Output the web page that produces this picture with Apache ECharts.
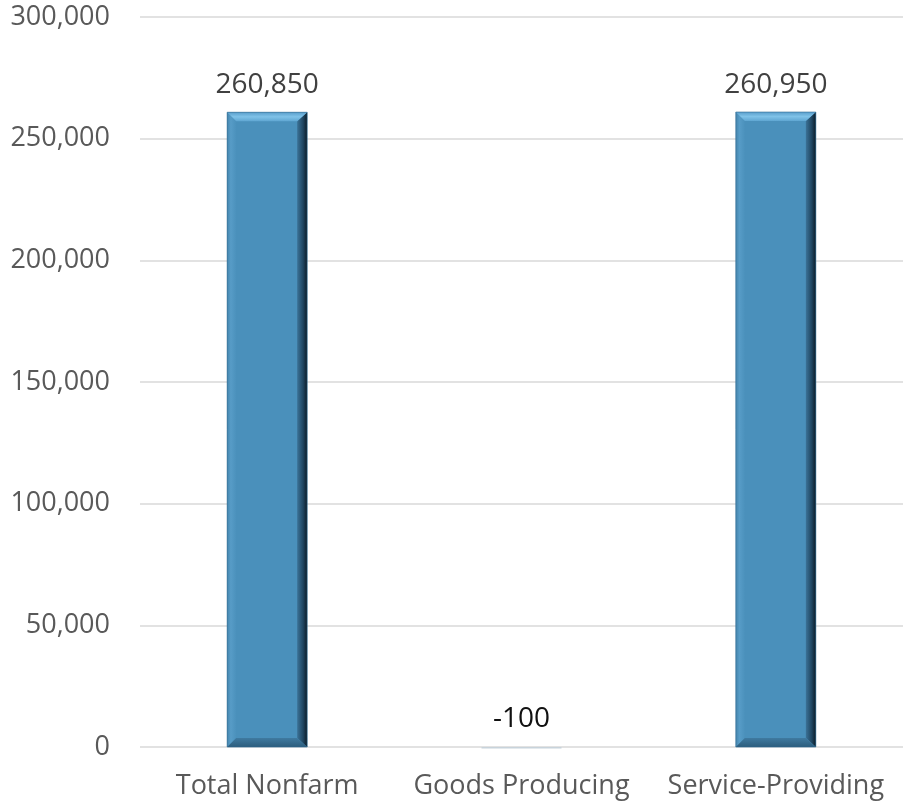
<!DOCTYPE html>
<html>
<head>
<meta charset="utf-8">
<script src="https://cdn.jsdelivr.net/npm/echarts@6/dist/echarts.min.js"></script>
<style>html,body{margin:0;padding:0;background:#fff}#c{width:903px;height:801px}</style>
</head>
<body>
<div id="c"></div>
<script>
var categories = ['Total Nonfarm', 'Goods Producing', 'Service-Providing'];
var values = [260850, -100, 260950];
var yTicks = [0, 50000, 100000, 150000, 200000, 250000, 300000];

var chart = echarts.init(document.getElementById('c'));
var fmt = function (v) { return Number(v).toLocaleString('en-US'); };
var FONT = 'Open Sans';
var BAR_W = 80;

function renderBar(params, api) {
  var idx = api.value(0), v = api.value(1);
  var top = api.coord([idx, v]);
  var base = api.coord([idx, 0]);
  var x0 = top[0] - BAR_W / 2, x1 = top[0] + BAR_W / 2;
  var children = [];
  var label = fmt(v);
  if (v < 0) {
    children.push({type: 'rect', shape: {x: x0, y: base[1], width: BAR_W, height: 1.5}, style: {fill: '#c8d3db'}});
    children.push({type: 'text', style: {text: label, x: top[0], y: base[1] - 14, align: 'center', verticalAlign: 'bottom', fill: '#111111', font: '28px "' + FONT + '"'}});
    return {type: 'group', children: children};
  }
  var y0 = top[1], y1 = base[1];
  var b = 9, br = 10;
  children.push({type: 'rect', shape: {x: x0, y: y0, width: BAR_W, height: y1 - y0}, style: {fill: '#4a90bb'}});
  children.push({type: 'polygon', shape: {points: [[x0, y0], [x0 + b, y0 + b], [x0 + b, y1 - b], [x0, y1]]},
    style: {fill: new echarts.graphic.LinearGradient(0, 0, 1, 0, [{offset: 0, color: '#4585ad'}, {offset: 0.4, color: '#579cc7'}, {offset: 1, color: '#4b91bc'}])}});
  children.push({type: 'polygon', shape: {points: [[x1, y0], [x1, y1], [x1 - br, y1 - b], [x1 - br, y0 + b]]},
    style: {fill: new echarts.graphic.LinearGradient(0, 0, 1, 0, [{offset: 0, color: '#3b7297'}, {offset: 0.6, color: '#1f4560'}, {offset: 1, color: '#0c1c27'}])}});
  children.push({type: 'polygon', shape: {points: [[x0, y0], [x1, y0], [x1 - br, y0 + b], [x0 + b, y0 + b]]},
    style: {fill: new echarts.graphic.LinearGradient(0, 0, 0, 1, [{offset: 0, color: '#5a9ecb'}, {offset: 0.5, color: '#7fc2e8'}, {offset: 1, color: '#5fa6d2'}])}});
  children.push({type: 'polygon', shape: {points: [[x0, y1], [x0 + b, y1 - b], [x1 - br, y1 - b], [x1, y1]]},
    style: {fill: new echarts.graphic.LinearGradient(0, 0, 0, 1, [{offset: 0, color: '#3f7aa0'}, {offset: 1, color: '#2c5d7d'}])}});
  children.push({type: 'rect', shape: {x: x0, y: y0, width: BAR_W, height: y1 - y0}, style: {fill: 'none', stroke: '#2f6a90', lineWidth: 0.6}});
  children.push({type: 'text', style: {text: label, x: top[0], y: y0 - 13, align: 'center', verticalAlign: 'bottom', fill: '#404040', font: '28px "' + FONT + '"'}});
  return {type: 'group', children: children};
}

chart.setOption({
  animation: false,
  grid: {left: 140, right: -1, top: 17, bottom: 54, containLabel: false},
  xAxis: {
    type: 'category',
    data: categories,
    axisLine: {show: false},
    axisTick: {show: false},
    axisLabel: {color: '#595959', fontFamily: FONT, fontSize: 27, margin: 26, interval: 0}
  },
  yAxis: {
    type: 'value',
    min: yTicks[0],
    max: yTicks[yTicks.length - 1],
    interval: 50000,
    axisLine: {show: false},
    axisTick: {show: false},
    splitLine: {lineStyle: {color: '#d9d9d9', width: 1.5}},
    axisLabel: {color: '#595959', fontFamily: FONT, fontSize: 27, margin: 30, formatter: fmt}
  },
  series: [{
    type: 'custom',
    renderItem: renderBar,
    encode: {x: 0, y: 1},
    data: values.map(function (v, i) { return [i, v]; })
  }]
});
</script>
</body>
</html>
